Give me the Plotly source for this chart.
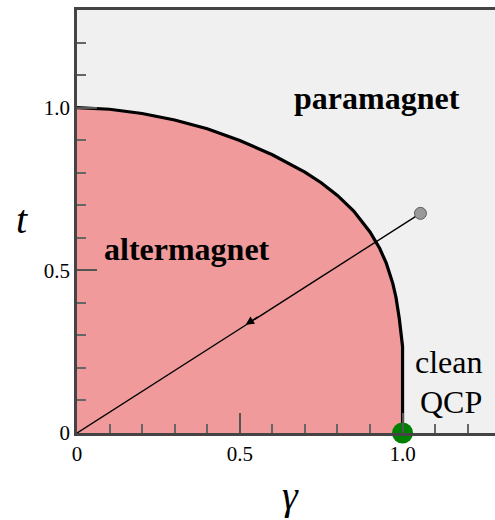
import plotly.graph_objects as go

# phase boundary (gamma, t)
boundary_gamma = [0.0, 0.1, 0.2, 0.3, 0.4, 0.5, 0.6, 0.7, 0.75, 0.8, 0.85, 0.9, 0.93, 0.95,
                  0.97, 0.98, 0.99, 0.995, 1.0, 1.0]
boundary_t = [1.0, 0.995, 0.982, 0.962, 0.935, 0.899, 0.855, 0.802, 0.769, 0.730, 0.682, 0.618,
              0.567, 0.522, 0.460, 0.416, 0.352, 0.31, 0.266, 0.0]

# flow line from origin to grey point
flow_gamma = [0.0, 1.055]
flow_t = [0.0, 0.675]
arrow_head = (0.518, 0.333)
arrow_tail = (0.56, 0.36)

qcp_gamma = [1.0]
qcp_t = [0.0]

xtick_vals = [0, 0.5, 1.0]
xtick_text = ["0", "0.5", "1.0"]
ytick_vals = [0, 0.5, 1.0]
ytick_text = ["0", "0.5", "1.0"]

labels = [
    ("<b>paramagnet</b>", 0.923, 1.03),
    ("<b>altermagnet</b>", 0.339, 0.567),
    ("clean", 1.144, 0.218),
    ("QCP", 1.15, 0.095),
]

SERIF = "Liberation Serif"

fig = go.Figure()

fig.add_trace(go.Scatter(
    x=boundary_gamma + [0.0], y=boundary_t + [0.0],
    fill="toself", fillcolor="#f09a9b", mode="none", hoverinfo="skip",
))
fig.add_trace(go.Scatter(
    x=boundary_gamma, y=boundary_t, mode="lines",
    line=dict(color="black", width=3.2),
))
fig.add_trace(go.Scatter(
    x=flow_gamma, y=flow_t, mode="lines", line=dict(color="black", width=1.4),
))
fig.add_trace(go.Scatter(
    x=flow_gamma[1:], y=flow_t[1:], mode="markers",
    marker=dict(size=12, color="#999999", line=dict(color="#5a5a5a", width=1)),
))
fig.add_trace(go.Scatter(
    x=qcp_gamma, y=qcp_t, mode="markers", cliponaxis=False,
    marker=dict(size=21, color="#008000", line=dict(width=0)),
))

fig.add_annotation(
    x=arrow_head[0], y=arrow_head[1], ax=arrow_tail[0], ay=arrow_tail[1],
    xref="x", yref="y", axref="x", ayref="y", text="", showarrow=True,
    arrowhead=2, arrowsize=1.2, arrowwidth=1.4, arrowcolor="black",
)

for txt, gx, ty in labels:
    fig.add_annotation(x=gx, y=ty, xref="x", yref="y", text=txt, showarrow=False,
                       font=dict(family=SERIF, size=32, color="black"))

fig.add_annotation(x=-0.15, y=0.504, xref="paper", yref="paper", text="<i>t</i>",
                   showarrow=False, font=dict(family=SERIF, size=40, color="black"))
fig.add_annotation(x=0.51, y=-0.205, xref="paper", yref="paper", text="<i>γ</i>",
                   showarrow=False, font=dict(family=SERIF, size=40, color="black"))

axis_common = dict(
    showgrid=False, zeroline=False, showline=True, linecolor="#444444", linewidth=2.5,
    ticks="inside", ticklen=20, tickwidth=1.5, tickcolor="#555555",
    tickfont=dict(family=SERIF, size=21, color="black"),
    minor=dict(dtick=0.1, ticks="inside", ticklen=9, tickwidth=1.5, tickcolor="#666666"),
)

fig.update_xaxes(range=[0, 1.284], tickvals=xtick_vals, ticktext=xtick_text,
                 mirror=True, **axis_common)
fig.update_yaxes(range=[0, 1.3], tickvals=ytick_vals, ticktext=ytick_text,
                 mirror=False, **axis_common)

fig.update_layout(
    width=495, height=520,
    margin=dict(l=77, r=0, t=10, b=87),
    plot_bgcolor="#f0f0f0", paper_bgcolor="white",
    showlegend=False,
    font=dict(family=SERIF),
)

fig.write_html("out.html")
